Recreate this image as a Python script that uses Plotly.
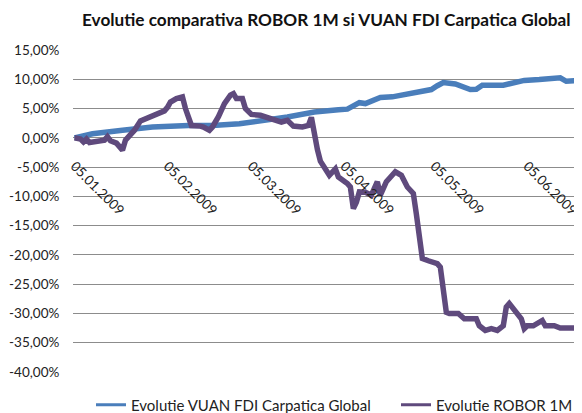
import plotly.graph_objects as go

# VUAN FDI Carpatica Global (% change)
vuan_dates = ["2009-01-05", "2009-01-11", "2009-01-21", "2009-01-31", "2009-02-12", "2009-02-20",
              "2009-03-01", "2009-03-06", "2009-03-17", "2009-03-26", "2009-04-02", "2009-04-03",
              "2009-04-06", "2009-04-10", "2009-04-12", "2009-04-15", "2009-04-17", "2009-04-21",
              "2009-04-26", "2009-04-30", "2009-05-04", "2009-05-06", "2009-05-08", "2009-05-12",
              "2009-05-14", "2009-05-17", "2009-05-19", "2009-05-21", "2009-05-28", "2009-05-31",
              "2009-06-04", "2009-06-09", "2009-06-14", "2009-06-16", "2009-06-18", "2009-06-20",
              "2009-06-23"]
vuan = [0.0, 0.7, 1.3, 1.85, 2.1, 2.1,
        2.4, 2.7, 3.55, 4.4, 4.9, 4.8,
        4.9, 6.0, 5.85, 6.6, 6.9, 7.0,
        7.4, 7.7, 8.25, 8.9, 9.45, 9.2,
        8.8, 8.25, 8.3, 9.0, 9.0, 9.3,
        9.8, 9.95, 10.3, 10.25, 9.65, 9.8,
        9.8]

# ROBOR 1M (% change)
robor_dates = ["2009-01-05", "2009-01-07", "2009-01-08", "2009-01-09", "2009-01-10", "2009-01-13",
               "2009-01-15", "2009-01-16", "2009-01-17", "2009-01-19", "2009-01-21", "2009-01-22",
               "2009-01-23", "2009-01-25", "2009-01-27", "2009-01-28", "2009-01-29", "2009-01-31",
               "2009-02-03", "2009-02-04", "2009-02-05", "2009-02-06", "2009-02-08", "2009-02-10",
               "2009-02-11", "2009-02-13", "2009-02-16", "2009-02-17", "2009-02-19", "2009-02-20",
               "2009-02-22", "2009-02-24", "2009-02-26", "2009-02-27", "2009-02-28", "2009-03-02",
               "2009-03-03", "2009-03-05", "2009-03-08", "2009-03-10", "2009-03-13", "2009-03-15",
               "2009-03-17", "2009-03-19", "2009-03-22", "2009-03-24", "2009-03-25", "2009-03-26",
               "2009-03-27", "2009-03-28", "2009-03-30", "2009-03-31", "2009-04-02", "2009-04-03",
               "2009-04-06", "2009-04-07", "2009-04-08", "2009-04-09", "2009-04-10", "2009-04-12",
               "2009-04-14", "2009-04-16", "2009-04-17", "2009-04-19", "2009-04-22", "2009-04-24",
               "2009-04-26", "2009-04-28", "2009-04-29", "2009-04-30", "2009-05-01", "2009-05-03",
               "2009-05-06", "2009-05-07", "2009-05-08", "2009-05-09", "2009-05-10", "2009-05-13",
               "2009-05-15", "2009-05-19", "2009-05-20", "2009-05-22", "2009-05-24", "2009-05-26",
               "2009-05-28", "2009-05-29", "2009-05-30", "2009-06-01", "2009-06-03", "2009-06-04",
               "2009-06-05", "2009-06-07", "2009-06-09", "2009-06-10", "2009-06-11", "2009-06-14",
               "2009-06-16", "2009-06-18", "2009-06-20", "2009-06-23"]
robor = [0.0, -0.2, -0.7, -0.2, -0.8, -0.6,
         -0.4, 0.2, -0.5, -0.9, -2.1, -0.4,
         0.1, 1.3, 2.9, 3.1, 3.45, 3.85,
         4.4, 4.6, 5.2, 6.1, 6.7, 7.0,
         5.0, 2.1, 2.0, 1.85, 1.3, 1.85,
         3.6, 5.85, 7.3, 7.55, 6.7, 6.7,
         5.0, 4.0, 3.85, 3.55, 3.0, 2.7,
         3.0, 2.0, 1.85, 2.1, 3.5, 0.5,
         -2.0, -4.0, -5.8, -6.4, -5.3, -6.7,
         -7.8, -8.4, -12.1, -11.0, -9.25, -9.3,
         -9.8, -7.5, -9.8, -7.5, -5.8, -6.4,
         -8.4, -9.5, -13.0, -17.5, -20.6, -21.0,
         -21.5, -22.1, -25.8, -29.8, -30.0, -30.0,
         -30.9, -30.9, -32.1, -32.9, -32.6, -32.9,
         -32.1, -28.9, -28.3, -29.5, -30.9, -32.6,
         -32.1, -32.1, -31.5, -31.2, -32.1, -32.1,
         -32.5, -32.4, -32.5, -32.5]

y_ticks = [15, 10, 5, 0, -5, -10, -15, -20, -25, -30, -35, -40]
y_labels = ["15,00%", "10,00%", "5,00%", "0,00%", "-5,00%", "-10,00%", "-15,00%",
            "-20,00%", "-25,00%", "-30,00%", "-35,00%", "-40,00%"]

series_names = ["Evolutie VUAN FDI Carpatica Global", "Evolutie ROBOR 1M"]
title_text = "Evolutie comparativa ROBOR 1M si VUAN FDI Carpatica Global"

BLUE = "#4a7ebb"
PURPLE = "#5f4a7d"
FONT = "Lato"

W, H = 574, 405  # page body has an 8px margin; figure fits inside the 582x413 window

fig = go.Figure()
fig.add_trace(go.Scatter(x=vuan_dates, y=vuan, mode="lines", showlegend=False,
                         line=dict(color=BLUE, width=5.5), name=series_names[0]))
fig.add_trace(go.Scatter(x=robor_dates, y=robor, mode="lines", showlegend=False,
                         line=dict(color=PURPLE, width=5.5), name=series_names[1]))
# legend entries (thinner sample lines)
fig.add_trace(go.Scatter(x=[None], y=[None], mode="lines", name=series_names[0],
                         line=dict(color=BLUE, width=3), legend="legend"))
fig.add_trace(go.Scatter(x=[None], y=[None], mode="lines", name=series_names[1],
                         line=dict(color=PURPLE, width=3), legend="legend2"))

leg_common = dict(orientation="h", xref="container", xanchor="left",
                  y=8 / H, yref="container", yanchor="middle",
                  font=dict(size=15, color="#222"), bgcolor="rgba(0,0,0,0)")

fig.update_layout(
    width=W, height=H,
    margin=dict(l=65, r=0, t=42, b=41, autoexpand=False),
    paper_bgcolor="white", plot_bgcolor="white",
    font=dict(family=FONT, size=13, color="#222"),
    title=dict(text="<b>" + title_text + "</b>", x=74 / W, xref="container", xanchor="left",
               y=1 - 12 / H, yref="container", yanchor="middle", font=dict(size=17.2, color="#111")),
    showlegend=True,
    legend=dict(x=83 / W, **leg_common),
    legend2=dict(x=388 / W, **leg_common),
    xaxis=dict(type="date", range=["2009-01-04 12:00", "2009-06-23 06:00"],
               tick0="2009-01-05", dtick="M1", tickformat="%d.%m.%Y", tickangle=45,
               showgrid=False, showline=False, zeroline=False,
               anchor="free", position=0.40 / 0.55, ticks="", ticklabelstandoff=17,
               tickfont=dict(size=13.5, color="#222")),
    yaxis=dict(range=[-40, 15], tickvals=y_ticks, ticktext=y_labels,
               showgrid=True, gridcolor="#8c8c8c", gridwidth=1, zeroline=False,
               showline=False, ticks="outside", ticklen=10, tickcolor="rgba(0,0,0,0)",
               tickfont=dict(size=13.5, color="#222")),
)
fig.write_html("out.html")
